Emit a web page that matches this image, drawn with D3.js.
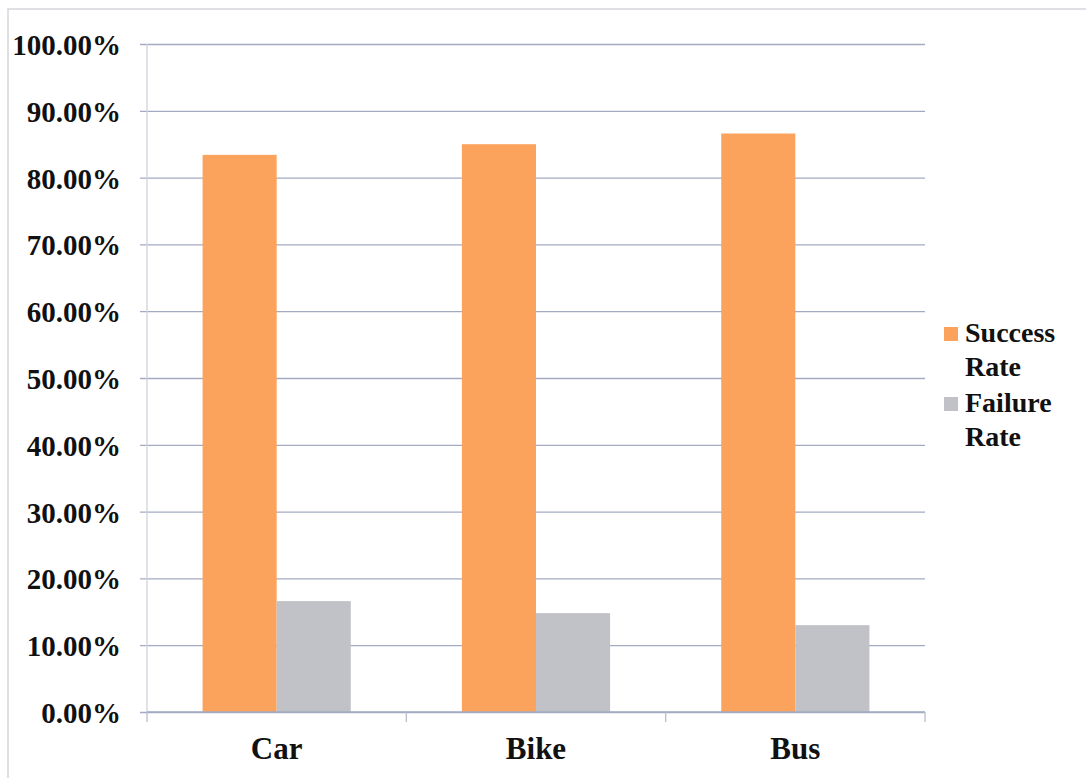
<!DOCTYPE html>
<html>
<head>
<meta charset="utf-8">
<script src="https://cdn.jsdelivr.net/npm/d3@7"></script>
<style>
  body { margin: 0; background: #fff; }
  text { font-family: "Liberation Serif", "Times New Roman", serif; font-weight: bold; fill: #111; }
</style>
</head>
<body>
<div id="chart"></div>
<script>
// Data
const categories = ["Car", "Bike", "Bus"];
const seriesNames = ["Success Rate", "Failure Rate"];
const successRate = [0.834, 0.850, 0.866];
const failureRate = [0.166, 0.148, 0.130];
const yTicks = [0, 0.1, 0.2, 0.3, 0.4, 0.5, 0.6, 0.7, 0.8, 0.9, 1.0];

const width = 1086;
const height = 778;
const margin = {top: 44, right: 161, bottom: 66, left: 147};

const colors = ["#fba25c", "#c0c2c7"];
const gridColor = "#a3abc2";

const svg = d3.create("svg")
    .attr("width", width)
    .attr("height", height);

// chart frame (only top + left edges visible in the scan)
svg.append("path")
    .attr("d", `M8,${height} V9 H${width}`)
    .attr("fill", "none")
    .attr("stroke", "#d4d6dc")
    .attr("stroke-width", 1.5);

const x = d3.scaleBand()
    .domain(categories)
    .range([margin.left, width - margin.right]);

// 2 bars + 150% gap per category
const x1 = d3.scaleBand()
    .domain(seriesNames)
    .range([0, x.bandwidth()])
    .paddingOuter(0.75)
    .paddingInner(0);

const y = d3.scaleLinear()
    .domain([0, 1])
    .range([height - margin.bottom, margin.top]);

// y axis with gridlines
const yAxis = svg.append("g")
    .attr("transform", `translate(${margin.left},0)`)
    .call(d3.axisLeft(y)
        .tickValues(yTicks)
        .tickFormat(d3.format(".2%"))
        .tickSize(-(width - margin.left - margin.right))
        .tickPadding(26));
yAxis.select(".domain").remove();
yAxis.selectAll(".tick line")
    .attr("x1", -7)
    .attr("stroke", gridColor)
    .attr("stroke-width", 1.3);
yAxis.selectAll(".tick text")
    .attr("font-size", 29)
    .attr("font-family", null)
    .attr("fill", "#111")
    .attr("dy", "0.36em");

// vertical axis line
svg.append("line")
    .attr("x1", margin.left).attr("x2", margin.left)
    .attr("y1", y(1)).attr("y2", y(0))
    .attr("stroke", "#d0d3dc")
    .attr("stroke-width", 1.3);

// bars
const groups = svg.append("g")
    .selectAll("g")
    .data(categories)
    .join("g")
    .attr("transform", d => `translate(${x(d)},0)`);

groups.selectAll("rect")
    .data((d, i) => [
        {name: seriesNames[0], value: successRate[i]},
        {name: seriesNames[1], value: failureRate[i]}
    ])
    .join("rect")
    .attr("x", d => x1(d.name))
    .attr("width", x1.bandwidth())
    .attr("y", d => y(d.value))
    .attr("height", d => y(0) - y(d.value))
    .attr("fill", (d, i) => colors[i]);

// x axis
const xAxis = svg.append("g")
    .attr("transform", `translate(0,${y(0)})`);
xAxis.append("line")
    .attr("x1", margin.left).attr("x2", width - margin.right)
    .attr("stroke", gridColor)
    .attr("stroke-width", 1.3);
xAxis.selectAll(".sep")
    .data([...categories.map(c => x(c)), width - margin.right])
    .join("line")
    .attr("class", "sep")
    .attr("x1", d => d).attr("x2", d => d)
    .attr("y1", 0).attr("y2", 10)
    .attr("stroke", "#b8bdcc")
    .attr("stroke-width", 1.3);
xAxis.selectAll(".cat")
    .data(categories)
    .join("text")
    .attr("class", "cat")
    .attr("x", d => x(d) + x.bandwidth() / 2)
    .attr("y", 47)
    .attr("text-anchor", "middle")
    .attr("font-size", 31)
    .text(d => d);

// legend
const legend = svg.append("g")
    .attr("transform", "translate(944,327)");
const legendItem = legend.selectAll("g")
    .data(seriesNames)
    .join("g")
    .attr("transform", (d, i) => `translate(0,${i * 70})`);
legendItem.append("rect")
    .attr("width", 14)
    .attr("height", 14)
    .attr("fill", (d, i) => colors[i]);
legendItem.append("text")
    .attr("x", 21)
    .attr("y", 15)
    .attr("font-size", 28)
    .selectAll("tspan")
    .data(d => d.split(" "))
    .join("tspan")
    .attr("x", 21)
    .attr("dy", (d, i) => i === 0 ? 0 : 34)
    .text(d => d);

d3.select("#chart").node().appendChild(svg.node());
</script>
</body>
</html>
